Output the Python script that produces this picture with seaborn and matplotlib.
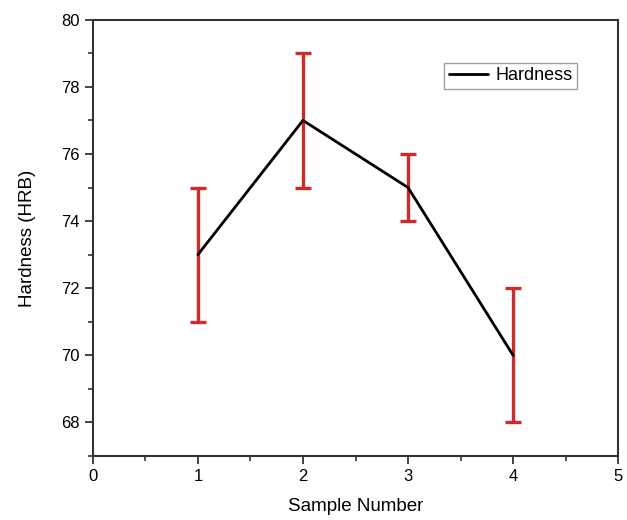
import matplotlib
matplotlib.use("Agg")
import matplotlib.pyplot as plt
from matplotlib.ticker import MultipleLocator
import seaborn as sns
import pandas as pd

sns.set_style("white")
plt.rcParams["font.family"] = ["Liberation Sans", "DejaVu Sans"]
plt.rcParams["text.color"] = "black"
plt.rcParams["axes.labelcolor"] = "black"

samples = [1, 2, 3, 4]
hardness = [73, 77, 75, 70]
hardness_err = [2, 2, 1, 2]

df = pd.DataFrame({"Sample Number": samples, "Hardness (HRB)": hardness})

fig = plt.figure(figsize=(6.27, 5.2), dpi=100)
ax = fig.add_axes([0.148, 0.123, 0.838, 0.839])

ax.errorbar(samples, hardness, yerr=hardness_err, fmt="none",
            ecolor="#cf2b2b", elinewidth=2.4, capsize=5.5, capthick=2.4, zorder=2)
sns.lineplot(data=df, x="Sample Number", y="Hardness (HRB)", ax=ax,
             color="black", linewidth=2, label="Hardness", zorder=3)

ax.set_xlim(0, 5)
ax.set_ylim(67, 80)
ax.xaxis.set_major_locator(MultipleLocator(1))
ax.xaxis.set_minor_locator(MultipleLocator(0.5))
ax.yaxis.set_minor_locator(MultipleLocator(1))
ax.set_yticks([68, 70, 72, 74, 76, 78, 80])

ax.tick_params(which="major", direction="out", length=6, width=1.3,
               labelsize=12, colors="#333333", labelcolor="black",
               left=True, bottom=True)
ax.tick_params(which="minor", direction="out", length=3.5, width=1.2,
               colors="#333333", left=True, bottom=True)

for s in ax.spines.values():
    s.set_color("#333333")
    s.set_linewidth(1.5)

ax.set_xlabel("Sample Number", fontsize=13.5, labelpad=10)
ax.set_ylabel("Hardness (HRB)", fontsize=13.5, labelpad=18)

leg = ax.legend(loc="upper right", bbox_to_anchor=(0.922, 0.901),
                borderaxespad=0, fontsize=13, frameon=True, fancybox=False,
                handlelength=2.2, borderpad=0.25, handletextpad=0.4)
leg.get_frame().set_edgecolor("#888888")
leg.get_frame().set_linewidth(1.0)

fig.savefig("out.png", dpi=100)
